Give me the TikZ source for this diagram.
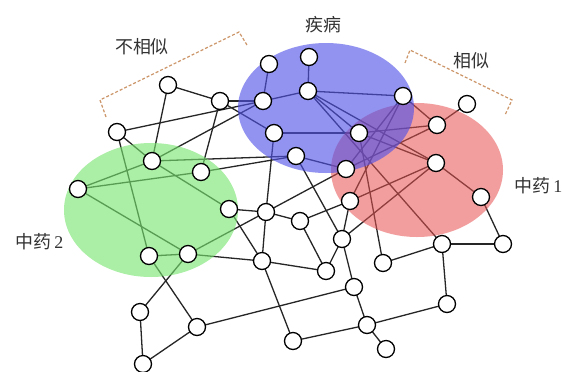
\documentclass[tikz,border=0pt]{standalone}
\usepackage{fontspec}
\newfontfamily\cjk{Noto Sans CJK SC}
\newfontfamily\serifnum{Liberation Serif}
\definecolor{gblob}{RGB}{120,228,110}
\definecolor{rblob}{RGB}{232,80,80}
\definecolor{bblob}{RGB}{80,80,232}
\definecolor{brkc}{RGB}{205,150,105}
\begin{document}
\begin{tikzpicture}[x=1bp,y=-1bp,
  vtx/.style={circle,draw=black,fill=white,line width=1.3bp,minimum size=17bp,inner sep=0pt},
  edge/.style={line width=1.3bp,black!85},
  blob/.style={draw=none},
  brk/.style={draw=brkc,line width=1.2bp,dash pattern=on 3bp off 2bp},
  lbl/.style={font=\cjk\fontsize{18}{20}\selectfont,text=black!80}]
\useasboundingbox (0,0) rectangle (563,371);
\fill[white] (0,0) rectangle (563,371);
% coordinates
\foreach \n/\x/\y in {A/168/85,B/220/101,C/117/132,D/152/161,E/201/172,F/78/189,G/229/209,H/266/212,
  I/149/256,J/188/254,K/262/261,L/140/312,M/197/327,N/143/364,
  P1/269/64,P2/309/57,P3/263/101,P4/308/91,P5/274/133,P6/296/156,P7/403/96,
  Q1/359/133,Q2/346/169,R1/437/125,R2/467/104,R3/436/163,R4/481/197,R5/442/244,R6/503/244,
  S1/350/201,S2/342/239,S3/300/221,S4/326/271,S5/383/263,S6/354/287,S7/447/304,S8/367/325,S9/293/341,S10/386/349}
  {\coordinate (\n) at (\x,\y);}
% edges
\foreach \a/\b in {A/B,A/D,B/E,C/P3,B/P3,B/P5,D/P3,C/D,C/I,D/F,D/P6,D/G,E/F,E/P6,F/J,
  G/H,G/K,J/H,J/K,J/L,I/J,I/M,L/N,N/M,M/S6,H/K,H/P5,H/S3,H/Q2,K/S4,K/S9,S9/S8,
  S6/S2,S6/S8,S8/S10,S8/S7,S7/R5,R5/R6,R5/S5,R4/R6,R3/R4,R1/R2,R1/Q1,R1/P7,R1/Q2,
  Q1/R3,Q1/P5,Q1/P4,Q1/S5,P4/P7,P4/P3,P4/P2,P1/P3,P6/Q2,P4/R3,P4/R5,P7/Q2,P7/S1,
  R3/S1,R3/S2,S1/S2,S1/S3,S3/S4,S2/S4,P6/S2}
  {\draw[edge] (\a) -- (\b);}
% translucent regions
\fill[blob,gblob,opacity=0.62] (151,210) ellipse [x radius=87,y radius=67];
\fill[blob,rblob,opacity=0.55] (417,170) ellipse [x radius=86,y radius=67];
\fill[blob,bblob,opacity=0.62] (326,108) ellipse [x radius=88,y radius=65];
% nodes
\foreach \n in {A,B,C,D,E,F,G,H,I,J,K,L,M,N,P1,P2,P3,P4,P5,P6,P7,Q1,Q2,R1,R2,R3,R4,R5,R6,S1,S2,S3,S4,S5,S6,S7,S8,S9,S10}
  {\node[vtx] (n\n) at (\n) {};}
% brackets
\coordinate (b1) at (106,117); \coordinate (b2) at (100,100); \coordinate (b3) at (239,32); \coordinate (b4) at (247,45);
\draw[brk] (b1) -- (b2) -- (b3) -- (b4);
\coordinate (c1) at (405,63); \coordinate (c2) at (410,50); \coordinate (c3) at (512,100); \coordinate (c4) at (505,115);
\draw[brk] (c1) -- (c2) -- (c3) -- (c4);
% labels
\node[lbl] (t1) at (142,47) {不相似};
\node[lbl] (t2) at (323,25) {疾病};
\node[lbl] (t3) at (471,61) {相似};
\node[lbl,anchor=west] (t4) at (511,186) {中药\,{\serifnum 1}};
\node[lbl,anchor=west] (t5) at (12,242) {中药\,{\serifnum 2}};
\end{tikzpicture}
\end{document}
